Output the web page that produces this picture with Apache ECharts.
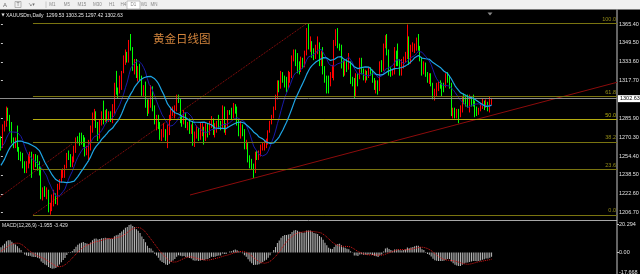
<!DOCTYPE html>
<html><head><meta charset="utf-8">
<script src="https://cdn.jsdelivr.net/npm/echarts@6/dist/echarts.min.js"></script>
<style>html,body{margin:0;padding:0;background:#000;}#c{width:640px;height:274px;}</style>
</head><body><div id="c"></div>
<script>
// ---------- DATA ----------
// Daily candles, each row: [open, high, low, close]
const jun17 = [[1268,1271,1259,1264],[1264,1281,1261,1279],[1279,1284,1275,1281],[1281,1296,1279,1293],[1293,1295,1284,1287],[1287,1289,1275,1279],[1280,1283,1265,1267],[1267,1270,1261,1265],[1265,1270,1261,1267],[1267,1280,1258,1261],[1261,1262,1251,1254],[1254,1258,1250,1254],[1254,1257,1244,1246],[1246,1250,1240,1242],[1242,1250,1240,1247],[1247,1256,1244,1250],[1250,1258,1248,1256],[1256,1258,1236,1246],[1246,1256,1243,1249],[1249,1256,1245,1249],[1249,1255,1242,1245],[1245,1250,1238,1241]];
const jul17 = [[1241,1245,1218,1219],[1219,1228,1217,1225],[1225,1229,1220,1222],[1222,1228,1218,1224],[1224,1226,1207,1212],[1212,1215,1205,1213],[1213,1222,1208,1214],[1214,1226,1212,1219],[1219,1223,1214,1218],[1218,1231,1213,1228],[1228,1235,1226,1234],[1234,1243,1232,1241],[1241,1244,1236,1242],[1242,1247,1236,1245],[1245,1257,1244,1255],[1255,1259,1251,1254],[1254,1256,1245,1248],[1248,1254,1245,1250],[1250,1263,1249,1260],[1260,1270,1257,1269],[1269,1271,1265,1269]];
const aug17 = [[1269,1274,1263,1269],[1269,1274,1264,1268],[1268,1272,1262,1268],[1268,1270,1254,1258],[1258,1263,1255,1259],[1259,1268,1251,1261],[1261,1280,1259,1277],[1277,1291,1274,1288],[1288,1294,1284,1289],[1289,1292,1278,1281],[1281,1283,1267,1271],[1271,1285,1269,1283],[1283,1292,1280,1290],[1290,1301,1281,1284],[1284,1293,1283,1291],[1291,1294,1282,1285],[1285,1292,1283,1289],[1289,1292,1283,1287],[1287,1298,1282,1291],[1291,1316,1290,1315],[1315,1326,1306,1309],[1309,1312,1303,1308],[1308,1322,1307,1321]];
const sep17 = [[1321,1326,1310,1325],[1325,1339,1324,1334],[1334,1344,1331,1339],[1339,1342,1333,1337],[1337,1352,1333,1350],[1350,1357,1343,1347],[1345,1346,1326,1329],[1329,1336,1323,1334],[1334,1336,1320,1323],[1323,1330,1317,1329],[1329,1332,1318,1320],[1320,1322,1305,1307],[1307,1314,1305,1311],[1311,1317,1295,1301],[1301,1302,1288,1294],[1294,1302,1290,1297],[1297,1314,1295,1311],[1311,1313,1292,1294],[1294,1297,1281,1283],[1283,1289,1276,1287],[1287,1289,1277,1280]];
const oct17 = [[1280,1283,1268,1271],[1271,1277,1267,1274],[1274,1282,1270,1276],[1276,1277,1267,1269],[1269,1281,1261,1274],[1274,1289,1272,1286],[1286,1294,1284,1292],[1292,1296,1288,1293],[1293,1297,1286,1296],[1296,1306,1292,1304],[1304,1306,1299,1302],[1302,1303,1282,1286],[1286,1289,1279,1283],[1283,1293,1281,1290],[1290,1291,1278,1280],[1280,1283,1276,1282],[1282,1286,1273,1277],[1277,1281,1273,1278],[1278,1284,1263,1266],[1266,1275,1262,1272],[1272,1280,1269,1276],[1276,1278,1267,1270]];
const nov17 = [[1270,1283,1268,1277],[1277,1282,1271,1278],[1278,1279,1264,1269],[1269,1282,1267,1281],[1281,1282,1270,1275],[1275,1284,1272,1282],[1282,1288,1278,1285],[1285,1286,1272,1274],[1274,1282,1270,1278],[1278,1284,1274,1282],[1282,1289,1277,1280],[1280,1284,1276,1278],[1278,1297,1277,1294],[1294,1296,1274,1275],[1275,1282,1272,1280],[1280,1293,1279,1292],[1292,1293,1289,1291],[1291,1295,1285,1287],[1287,1299,1286,1294],[1294,1298,1290,1294],[1294,1296,1280,1282],[1282,1285,1271,1275]];
const dec17 = [[1275,1284,1269,1280],[1280,1281,1271,1275],[1275,1277,1260,1262],[1262,1268,1260,1265],[1265,1266,1249,1251],[1251,1255,1244,1249],[1249,1252,1243,1246],[1246,1248,1236,1243],[1243,1258,1240,1256],[1256,1259,1251,1254],[1254,1259,1251,1256],[1256,1264,1254,1261],[1261,1266,1259,1263],[1263,1267,1259,1265],[1265,1269,1261,1266],[1266,1276,1264,1275],[1275,1284,1274,1283],[1283,1289,1281,1287],[1287,1296,1286,1295],[1295,1306,1293,1303]];
const jan18 = [[1303,1318,1302,1317],[1317,1318,1308,1313],[1313,1326,1311,1322],[1322,1325,1316,1320],[1320,1322,1312,1319],[1319,1321,1308,1313],[1313,1326,1311,1319],[1319,1325,1316,1322],[1322,1339,1320,1338],[1338,1344,1334,1340],[1340,1344,1330,1337],[1337,1341,1324,1327],[1327,1334,1323,1327],[1327,1338,1325,1332],[1332,1337,1328,1332],[1332,1343,1329,1340],[1340,1362,1339,1358],[1358,1366,1344,1347],[1347,1355,1342,1350],[1350,1351,1337,1340],[1340,1345,1335,1340],[1340,1348,1336,1345]];
const feb18 = [[1345,1355,1340,1348],[1348,1350,1330,1333],[1333,1343,1330,1340],[1340,1346,1323,1327],[1327,1330,1316,1318],[1318,1322,1307,1318],[1318,1322,1307,1315],[1315,1325,1313,1322],[1322,1331,1320,1329],[1329,1352,1318,1350],[1350,1361,1347,1354],[1354,1362,1345,1347],[1347,1349,1343,1346],[1346,1348,1328,1331],[1331,1335,1321,1323],[1323,1336,1322,1333],[1333,1336,1325,1330],[1330,1341,1327,1332],[1332,1334,1315,1318],[1318,1321,1313,1318]];
const mar18 = [[1318,1320,1303,1305],[1305,1324,1304,1322],[1322,1324,1313,1320],[1320,1337,1319,1335],[1335,1337,1323,1326],[1326,1328,1318,1321],[1321,1327,1316,1324],[1324,1326,1318,1321],[1321,1329,1320,1327],[1327,1329,1322,1325],[1325,1327,1316,1318],[1318,1320,1310,1314],[1314,1318,1307,1317],[1317,1318,1306,1311],[1311,1334,1309,1332],[1332,1335,1325,1328],[1328,1349,1326,1348],[1348,1356,1345,1354],[1354,1357,1339,1341],[1341,1344,1322,1325],[1325,1329,1321,1324],[1324,1327,1322,1325]];
const apr18 = [[1325,1346,1323,1342],[1342,1343,1330,1334],[1334,1349,1330,1333],[1333,1336,1322,1326],[1326,1336,1322,1332],[1332,1338,1328,1336],[1336,1342,1333,1339],[1339,1365,1336,1352],[1352,1355,1331,1333],[1333,1348,1332,1345],[1345,1350,1342,1346],[1346,1349,1341,1347],[1347,1354,1343,1350],[1350,1357,1343,1345],[1345,1347,1334,1336],[1336,1337,1322,1324],[1324,1334,1323,1333],[1333,1333,1321,1322],[1322,1325,1316,1317],[1317,1324,1315,1323],[1323,1324,1313,1315]];
const may18 = [[1315,1316,1302,1305],[1305,1311,1301,1306],[1306,1316,1304,1312],[1312,1317,1309,1314],[1314,1318,1311,1314],[1314,1316,1304,1313],[1313,1316,1308,1313],[1313,1324,1312,1322],[1322,1325,1316,1319],[1319,1322,1311,1314],[1314,1316,1288,1290],[1290,1295,1286,1291],[1291,1295,1286,1290],[1290,1294,1286,1291],[1291,1294,1282,1291],[1291,1297,1287,1292],[1292,1305,1291,1304],[1304,1307,1298,1304],[1304,1306,1296,1302],[1302,1306,1295,1297],[1297,1306,1291,1299],[1299,1304,1296,1299],[1299,1306,1296,1298]];
const jun18 = [[1298,1301,1287,1294],[1294,1296,1288,1292],[1292,1295,1289,1294],[1294,1299,1292,1297],[1297,1303,1294,1298],[1298,1301,1293,1298],[1298,1302,1295,1299],[1299,1300,1292,1294],[1294,1304,1291,1299.5],[1299.53,1303.25,1297.42,1302.63]];
// closes before the visible window (needed so the moving averages / MACD start at the left edge)
const priorCloses = [1253,1256,1248,1252,1254,1254,1274,1285,1288,1290,1283,1283,1285,1276,1263,1264,1264,1268,1256,1256,1248,1229,1228,1227,1218,1220,1225,1228,1230,1236,1259,1252,1254,1261,1251,1257,1256,1267,1267,1262,1268];

const priceTicks = [1206.70,1222.60,1238.50,1254.40,1270.30,1285.90,1317.70,1333.60,1349.50,1365.40];
const macdTicks = [20.294, 0, -17.668];
const fibLevels = [0, 23.6, 38.2, 50.0, 61.8, 100.0];
const fibLow = 1204.8, fibHigh = 1366.0;          // fibonacci anchors (price)
const fibFrom = 17.5, fibTo = 167.2;              // fibonacci anchors (candle index)
const lastPrice = 1302.63;
const trendSolid = [[103.3, 1221.6], [336.5, 1316.4]];   // [candle index, price]
const trendDotted = [[-0.5, 1219.9], [38.8, 1264.5]];
const headerText = 'XAUUSDm,Daily  1299.53 1303.25 1297.42 1302.63';
const macdText = 'MACD(12,26,9) -1.955 -3.429';
const titleText = '黄金日线图';
const periods = ['M1','M5','M15','M30','H1','H4','D1','W1','MN'];

// ---------- BUILD ----------
const rows = [].concat(jun17, jul17, aug17, sep17, oct17, nov17, dec17, jan18, feb18, mar18, apr18, may18, jun18);
const SLOTS = 337;
const cats = Array.from({length: SLOTS}, (_, i) => i);
const candleData = rows.map(r => [r[0], r[3], r[2], r[1]]);
const allCloses = priorCloses.concat(rows.map(r => r[3]));
const P = priorCloses.length;
function sma(a, n) { return a.map((v, i) => { if (i < n - 1 || v == null) return null; let s = 0; for (let k = i - n + 1; k <= i; k++) { if (a[k] == null) return null; s += a[k]; } return +(s / n).toFixed(3); }); }
function ema(a, n) { const al = 2 / (n + 1); const out = []; a.forEach((v, i) => out.push(i === 0 ? v : al * v + (1 - al) * out[i - 1])); return out; }
const ma10 = sma(allCloses, 10).slice(P);
const ma20 = sma(allCloses, 20).slice(P);
const e12 = ema(allCloses, 12), e26 = ema(allCloses, 26);
const macdMain = e12.map((v, i) => v - e26[i]);
const macdSig = sma(macdMain, 9).slice(P);
const macdVis = macdMain.slice(P).map(v => +v.toFixed(3));

const fibLines = fibLevels.map(lv => {
  const p = fibLow + (fibHigh - fibLow) * lv / 100;
  const bright = (lv === 50);
  return [{coord: [fibFrom, p], lineStyle: {color: bright ? '#b4ac10' : '#7a7410', width: 1, type: 'solid'},
           label: {show: true, position: 'insideEndTop', distance: 1, formatter: lv.toFixed(1), color: bright ? '#b4ac10' : '#948c18', fontSize: 5.5, fontFamily: 'Liberation Sans'}},
          {coord: [336.5, p]}];
});
fibLines.push([{coord: [-0.5, lastPrice], lineStyle: {color: '#8c8c8c', width: 1, type: 'solid'},
  label: {show: true, position: 'end', distance: 1, formatter: lastPrice.toFixed(2), color: '#000', backgroundColor: '#fff', padding: [1, 2, 0, 2], fontSize: 5.5, fontFamily: 'Liberation Sans'}},
  {coord: [336.5, lastPrice]}]);

const chart = echarts.init(document.getElementById('c'), null, {renderer: 'canvas', width: 640, height: 274});
const option = {
  backgroundColor: '#000',
  animation: false,
  grid: [
    {left: 0, top: 10, width: 617, height: 209, containLabel: false, outerBoundsMode: 'none'},
    {left: 0, top: 224.5, width: 617, height: 52.4, containLabel: false, outerBoundsMode: 'none'}
  ],
  xAxis: [
    {type: 'category', gridIndex: 0, data: cats, boundaryGap: true, show: false},
    {type: 'category', gridIndex: 1, data: cats, boundaryGap: true, show: false},
    {type: 'value', gridIndex: 0, min: -0.5, max: SLOTS - 0.5, show: false}
  ],
  yAxis: [
    {type: 'value', gridIndex: 0, position: 'right', min: 1201.4, max: 1377.2, scale: true,
     splitLine: {show: false}, axisLine: {show: false},
     axisTick: {show: true, inside: false, length: 2, lineStyle: {color: '#c8c8c8'}, customValues: priceTicks},
     axisLabel: {show: true, margin: 2, color: '#e0e0e0', fontSize: 5.5, fontFamily: 'Liberation Sans', customValues: priceTicks, hideOverlap: false,
                 formatter: v => v.toFixed(2)}},
    {type: 'value', gridIndex: 1, position: 'right', min: -17.668, max: 20.294,
     splitLine: {show: false}, axisLine: {show: false},
     axisTick: {show: true, inside: false, length: 2, lineStyle: {color: '#c8c8c8'}, customValues: macdTicks},
     axisLabel: {show: true, margin: 2, color: '#e0e0e0', fontSize: 5.5, fontFamily: 'Liberation Sans', customValues: macdTicks, hideOverlap: false,
                 formatter: v => v === 0 ? '0.00' : (v < 0 ? '{lo|' + v.toFixed(3) + '}' : v.toFixed(3)),
                 rich: {lo: {fontSize: 5.5, color: '#e0e0e0', fontFamily: 'Liberation Sans', padding: [0, 0, 8, 0]}}}}
  ],
  series: [
    {type: 'line', xAxisIndex: 2, yAxisIndex: 0, z: 1, symbol: 'none', silent: true,
     data: [[fibFrom, fibLow], [fibTo, fibHigh]], lineStyle: {color: '#a01010', width: 1, type: 'dotted'},
     markLine: {silent: true, symbol: ['none', 'none'], animation: false, data: fibLines}},
    {type: 'line', xAxisIndex: 2, yAxisIndex: 0, z: 1, symbol: 'none', silent: true,
     data: trendDotted, lineStyle: {color: '#a01010', width: 1, type: 'dotted'}},
    {type: 'line', xAxisIndex: 2, yAxisIndex: 0, z: 1, symbol: 'none', silent: true,
     data: trendSolid, lineStyle: {color: '#8c0c0c', width: 1}},
    {type: 'candlestick', xAxisIndex: 0, yAxisIndex: 0, z: 3, data: candleData, barWidth: '68%',
     itemStyle: {color: '#ff0000', color0: '#00ff00', borderColor: '#ff0000', borderColor0: '#00ff00', borderColorDoji: '#00ff00', borderWidth: 1}},
    {type: 'line', xAxisIndex: 0, yAxisIndex: 0, z: 4, symbol: 'none', data: ma10, lineStyle: {color: '#1a1aa8', width: 1}},
    {type: 'line', xAxisIndex: 0, yAxisIndex: 0, z: 5, symbol: 'none', data: ma20, lineStyle: {color: '#1ea6e6', width: 1.2}},
    {type: 'bar', xAxisIndex: 1, yAxisIndex: 1, data: macdVis, barWidth: 1, itemStyle: {color: '#bcbcbc'}},
    {type: 'line', xAxisIndex: 1, yAxisIndex: 1, symbol: 'none', data: macdSig, lineStyle: {color: '#e01818', width: 1, type: 'dotted'}}
  ],
  graphic: [
    {type: 'rect', shape: {x: 0, y: 0, width: 640, height: 9.5}, style: {fill: '#f0f0f0'}, silent: true},
    {type: 'text', x: 3, y: 5, style: {text: 'A', fill: '#707070', fontSize: 6, fontFamily: 'Liberation Sans', verticalAlign: 'middle'}},
    {type: 'rect', shape: {x: 15, y: 1.5, width: 6, height: 6}, style: {fill: 'none', stroke: '#909090', lineWidth: 0.6}},
    {type: 'text', x: 18, y: 5, style: {text: 'T', fill: '#707070', fontSize: 5, fontFamily: 'Liberation Sans', align: 'center', verticalAlign: 'middle'}},
    {type: 'text', x: 28, y: 5, style: {text: '↘▾', fill: '#707070', fontSize: 5, fontFamily: 'DejaVu Sans', verticalAlign: 'middle'}},
    {type: 'line', shape: {x1: 46, y1: 1.5, x2: 46, y2: 8}, style: {stroke: '#b0b0b0', lineWidth: 0.6}},
    {type: 'rect', shape: {x: 127, y: 1, width: 13, height: 8}, style: {fill: '#ffffff', stroke: '#a0a0a0', lineWidth: 0.6}},
    ...periods.map((t, i) => ({type: 'text', x: [52.5, 67, 82, 97.5, 112, 123.5, 133.5, 144, 154][i], y: 5,
      style: {text: t, fill: '#8a8a8a', fontSize: 4.5, fontFamily: 'Liberation Sans', align: 'center', verticalAlign: 'middle'}})),
    {type: 'text', x: 1.5, y: 15.3, style: {text: '▼', fill: '#e0e0e0', fontSize: 4, fontFamily: 'DejaVu Sans', verticalAlign: 'middle'}},
    {type: 'text', x: 6, y: 15.3, style: {text: headerText, fill: '#e8e8e8', fontSize: 5, fontFamily: 'Liberation Sans', verticalAlign: 'middle'}},
    {type: 'polygon', shape: {points: [[487.5, 12.5], [492.5, 12.5], [490, 15.5]]}, style: {fill: '#8a8a8a'}},
    {type: 'text', x: 153, y: 39, style: {text: titleText, fill: '#d2843c', fontSize: 11.5, fontFamily: 'Noto Sans CJK SC', verticalAlign: 'middle'}},
    {type: 'line', shape: {x1: 0, y1: 220.5, x2: 617, y2: 220.5}, style: {stroke: '#a8a8a8', lineWidth: 1}},
    {type: 'line', shape: {x1: 617, y1: 9.5, x2: 617, y2: 274}, style: {stroke: '#c8c8c8', lineWidth: 1}},
    {type: 'text', x: 2, y: 225.5, style: {text: macdText, fill: '#e0e0e0', fontSize: 5, fontFamily: 'Liberation Sans', verticalAlign: 'middle'}}
  ]
};
chart.setOption(option);
</script></body></html>
